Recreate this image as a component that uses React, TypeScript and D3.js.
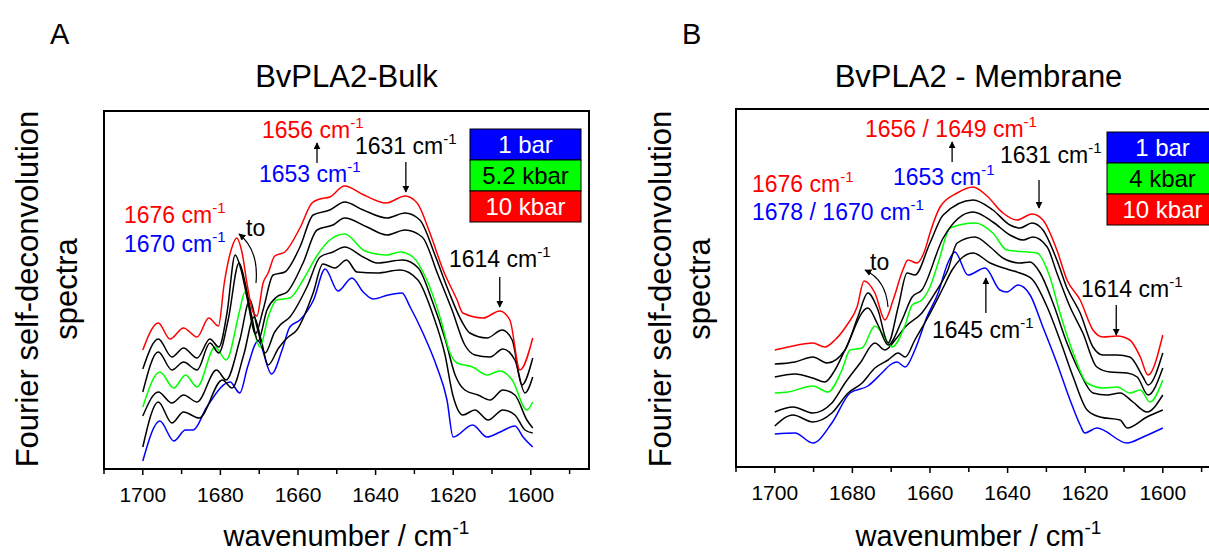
import React from "react";
import * as d3 from "d3";

type Pt = [number, number];

// ---------- axis values ----------
const xDomain: [number, number] = [1710, 1585];
const yDomain: [number, number] = [31, 389];
const majorTicks = [1700, 1680, 1660, 1640, 1620, 1600];
const minorTicks = [1710, 1690, 1670, 1650, 1630, 1610, 1590];

// ---------- Panel A: BvPLA2-Bulk (wavenumber, intensity a.u.) ----------
const bulk10kbar: Pt[] = [[1700,150],[1696,177],[1693,161],[1689.5,172],[1686,163],[1683,182],[1680.5,174],[1679,217],[1677,253],[1675.8,262],[1674.4,247],[1673,213],[1671.6,188],[1670.6,184],[1669,217],[1667.7,227],[1666,244],[1663.4,248],[1659.5,272],[1656.4,297],[1654.3,301],[1651.8,303],[1648,314],[1643,305],[1637.3,297],[1632.4,304],[1629.3,297],[1626,267],[1622.6,230],[1619,200],[1617.5,187],[1612.3,182],[1608,189],[1605.4,180],[1602.8,130],[1599.5,162]];
const bulkP2: Pt[] = [[1700,131],[1696,161],[1692.5,143],[1689.5,152],[1686,142],[1682.7,161],[1680.4,153],[1678.3,187],[1676.2,245],[1674.8,232],[1673,200],[1671,166],[1669,190],[1666.4,225],[1663.4,228],[1659.5,253],[1656.1,285],[1651.8,290],[1648,298],[1643.2,290],[1637.1,282],[1632.4,287],[1628.6,280],[1624.7,245],[1621.3,210],[1617.7,178],[1615.7,167],[1611.3,162],[1607.4,170],[1604.8,160],[1602.3,115],[1599.5,142]];
const bulkP3: Pt[] = [[1700,108],[1696,148],[1692.5,130],[1689.5,138],[1686,130],[1682.7,157],[1680.4,147],[1678,180],[1675.2,237],[1673.5,215],[1672,185],[1670.3,159],[1668,190],[1665.5,203],[1662.8,208],[1658.7,237],[1655.1,270],[1651,275],[1648,282],[1642.2,273],[1637.1,265],[1632.4,270],[1628,263],[1623.9,225],[1620.3,190],[1617,155],[1614.4,145],[1610.5,143],[1607.2,151],[1604.1,140],[1601.5,107],[1599.5,123]];
const bulk5kbar: Pt[] = [[1700,93],[1695.6,128],[1692,112],[1689,125],[1686,113],[1681.4,153],[1678.5,140],[1675,190],[1673.7,208],[1671.6,173],[1669.8,153],[1667.7,183],[1665.5,200],[1662.1,202],[1658.7,220],[1655,245],[1651.8,260],[1648,266],[1642.7,249],[1637.1,245],[1633.7,248],[1630.4,243],[1626.8,220],[1623.4,183],[1620.8,147],[1619,137],[1615,133],[1611.3,125],[1608,129],[1604.8,120],[1601,90],[1599.5,98]];
const bulkP5: Pt[] = [[1700,84],[1696,108],[1692.5,97],[1689.5,105],[1686,98],[1681,130],[1678.5,120],[1675,160],[1672.4,200],[1670.5,172],[1668.5,147],[1666,168],[1664.6,175],[1662.1,183],[1657.7,213],[1654.3,243],[1651,248],[1648,253],[1643.2,243],[1639.6,237],[1633,240],[1629,232],[1625.5,200],[1622,160],[1619.5,125],[1617,110],[1613.6,105],[1610.5,100],[1607.2,110],[1604.1,105],[1601,80],[1599.5,72]];
const bulkP6: Pt[] = [[1700,53],[1696,98],[1692.5,77],[1689.5,88],[1685.5,82],[1679.5,120],[1677,112],[1674,145],[1671.3,183],[1669.5,160],[1667.7,135],[1665,152],[1662.8,162],[1660.3,170],[1656.1,207],[1653.6,236],[1650.5,232],[1647.5,240],[1644.8,228],[1639.6,227],[1633.7,230],[1629.1,220],[1625.2,185],[1622.1,145],[1620.1,105],[1617.5,85],[1614.4,90],[1611,80],[1607.2,90],[1604.1,85],[1601.5,70],[1599.5,67]];
const bulk1bar: Pt[] = [[1700,39],[1695.6,79],[1692,59],[1689,70],[1687,70],[1683.5,93],[1677.5,118],[1675,107],[1673,133],[1670.3,159],[1666.8,126],[1664.1,150],[1662.1,173],[1659.5,180],[1656,200],[1653,231],[1649.7,209],[1646.1,222],[1643.2,208],[1640.7,201],[1636.8,205],[1633.2,207],[1631.1,193],[1627.8,167],[1624.2,133],[1621.6,100],[1620,63],[1615,75],[1611.3,63],[1607.9,68],[1604.1,74],[1602,63],[1599.5,53]];

// ---------- Panel B: BvPLA2 - Membrane ----------
const mem10kbar: Pt[] = [[1700,150],[1696.5,153],[1690.2,157],[1687.1,153],[1684.5,160],[1681.4,175],[1678.8,193],[1677,219],[1674.2,207],[1671.6,180],[1669.5,200],[1667,230],[1665.7,240],[1663.4,237],[1661.3,250],[1660,267],[1657.4,293],[1653,307],[1648.9,313],[1645.3,304],[1641.2,287],[1637.6,280],[1633.7,286],[1630.9,280],[1627.3,250],[1624.7,220],[1621.3,200],[1618,170],[1615.4,163],[1611.8,164],[1608.5,160],[1605.8,143],[1603.8,125],[1600,165]];
const memP2: Pt[] = [[1700,136],[1694.8,138],[1690.2,143],[1686.5,137],[1681.9,150],[1678.6,183],[1676,207],[1673.4,190],[1670.8,157],[1668.2,193],[1665.9,227],[1663.9,225],[1660,257],[1656.6,285],[1648.9,300],[1643.8,290],[1639.4,275],[1636.8,272],[1633.7,277],[1630.9,270],[1627.3,240],[1624.7,212],[1621.3,187],[1618,153],[1615.4,145],[1611.8,145],[1608.5,143],[1605.1,123],[1603.8,115],[1600,147]];
const memP3: Pt[] = [[1700,123],[1694.8,126],[1690.2,122],[1687.1,118],[1684.5,130],[1681.9,150],[1676,192],[1673.4,175],[1670.8,155],[1667.2,180],[1664.6,203],[1662.1,210],[1656.6,262],[1648.9,288],[1643.8,278],[1639.4,265],[1636,260],[1633.5,263],[1629.8,253],[1627.3,227],[1623.9,193],[1620.6,167],[1617,133],[1613.6,128],[1609.2,127],[1606.6,123],[1603.8,105],[1600,132]];
const mem4kbar: Pt[] = [[1700,107],[1696.6,108],[1690.2,114],[1686.3,108],[1682.7,130],[1680.6,150],[1677.5,152],[1674.2,174],[1672,165],[1669.8,153],[1666.4,175],[1664.6,195],[1662.1,200],[1660,213],[1657.9,237],[1654.8,272],[1648.4,277],[1643.8,267],[1640.2,250],[1635,248],[1632.4,247],[1629.1,223],[1626.5,187],[1623.1,147],[1619.5,117],[1615.4,112],[1611.8,113],[1608.5,107],[1605.8,110],[1603.3,98],[1600,120]];
const memP5: Pt[] = [[1700,88],[1695.3,93],[1690.2,87],[1685.3,97],[1681.9,117],[1678,137],[1674.2,157],[1671.6,150],[1669,160],[1666.4,173],[1662.1,187],[1658.7,207],[1655.4,230],[1653,257],[1648.4,263],[1644.5,253],[1641.2,242],[1636.8,237],[1634.2,238],[1631.6,227],[1628.3,197],[1624.7,157],[1621.3,127],[1618,107],[1614.4,105],[1611,107],[1607.7,98],[1604.1,88],[1600,105]];
const memP6: Pt[] = [[1700,74],[1695.3,85],[1690.2,78],[1685.3,87],[1681.1,107],[1677.5,117],[1674.2,132],[1670.8,140],[1668.2,147],[1666.4,143],[1663.9,160],[1660.5,183],[1656.9,210],[1654.3,230],[1651.5,243],[1648.9,247],[1644.5,237],[1639.4,230],[1636.8,227],[1633.5,220],[1629.8,193],[1626.5,160],[1623.1,123],[1619.5,90],[1616.2,83],[1611,80],[1609.2,72],[1604.1,83],[1600,90]];
const mem1bar: Pt[] = [[1700,66],[1694.8,67],[1690.2,57],[1685.3,77],[1680.6,107],[1676,114],[1672.4,127],[1670.3,135],[1668.5,138],[1666.4,133],[1663.9,150],[1660.8,183],[1657.9,207],[1655.4,237],[1653.6,248],[1650.2,225],[1645.8,232],[1642,210],[1640.2,208],[1637.3,215],[1634.2,205],[1630.9,173],[1627.3,137],[1623.9,100],[1621.3,75],[1620.1,67],[1617,72],[1609.2,57],[1605.1,63],[1600,72]];

const legendA = ["1 bar", "5.2 kbar", "10 kbar"];
const legendB = ["1 bar", "4 kbar", "10 kbar"];

const RED = "#ff0000", GREEN = "#00ff00", BLUE = "#0000ff", BLACK = "#000000";
const FONT = "'Liberation Sans', Arial, Helvetica, sans-serif";

const seriesA = [
  { d: bulk1bar, c: BLUE }, { d: bulkP6, c: BLACK }, { d: bulkP5, c: BLACK },
  { d: bulk5kbar, c: GREEN }, { d: bulkP3, c: BLACK }, { d: bulkP2, c: BLACK }, { d: bulk10kbar, c: RED },
];
const seriesB = [
  { d: mem1bar, c: BLUE }, { d: memP6, c: BLACK }, { d: memP5, c: BLACK },
  { d: mem4kbar, c: GREEN }, { d: memP3, c: BLACK }, { d: memP2, c: BLACK }, { d: mem10kbar, c: RED },
];

function Sup({ text, size = 23 }: { text: string; size?: number }) {
  const s = Math.round(size * 0.65);
  return (
    <>
      <tspan>{text}</tspan>
      <tspan dy={-size * 0.42} fontSize={s}>-1</tspan>
    </>
  );
}

function Arrow({ x, y1, y2 }: { x: number; y1: number; y2: number }) {
  return <line x1={x} x2={x} y1={y1} y2={y2} stroke="#000" strokeWidth={1.3} markerEnd="url(#ah)" />;
}

type PanelProps = {
  left: number; right: number; top: number; bottom: number;
  series: { d: Pt[]; c: string }[];
  title: string; letter: string; legend: string[];
  legendX: number; legendY: number;
  ylabX: number;
  children?: React.ReactNode;
  x: d3.ScaleLinear<number, number>;
};

function Panel(p: PanelProps) {
  const y = d3.scaleLinear().domain(yDomain).range([469, 111]);
  const line = d3.line<Pt>().x((d) => p.x(d[0])).y((d) => y(d[1])).curve(d3.curveMonotoneX);
  const legendColors = [BLUE, GREEN, RED];
  const legendText = ["#fff", "#000", "#fff"];
  const cx = (p.left + p.right) / 2;
  return (
    <g fontFamily={FONT}>
      <text x={p.left - 54} y={44} fontSize={29}>{p.letter}</text>
      <text x={cx} y={87} fontSize={31} textAnchor="middle">{p.title}</text>
      <text transform={`translate(${p.ylabX},289) rotate(-90)`} fontSize={31} textAnchor="middle">Fourier self-deconvolution</text>
      <text transform={`translate(${p.ylabX + 39},289) rotate(-90)`} fontSize={31} textAnchor="middle">spectra</text>
      {p.series.map((s, i) => (
        <path key={i} d={line(s.d) || ""} fill="none" stroke={s.c} strokeWidth={1.5} />
      ))}
      <rect x={p.left} y={p.top} width={p.right - p.left} height={p.bottom - p.top} fill="none" stroke="#000" strokeWidth={2} />
      {majorTicks.map((t) => (
        <g key={t}>
          <line x1={p.x(t)} x2={p.x(t)} y1={p.bottom} y2={p.bottom + 6} stroke="#000" strokeWidth={1.5} />
          <text x={p.x(t)} y={p.bottom + 33} fontSize={21} textAnchor="middle">{t}</text>
        </g>
      ))}
      {minorTicks.map((t) => (
        <line key={t} x1={p.x(t)} x2={p.x(t)} y1={p.bottom} y2={p.bottom + 5} stroke="#000" strokeWidth={1.5} />
      ))}
      <text x={cx} y={546} fontSize={29} textAnchor="middle"><Sup text="wavenumber / cm" size={29} /></text>
      {p.legend.map((l, i) => (
        <g key={l}>
          <rect x={p.legendX} y={p.legendY + i * 31} width={111} height={31} fill={legendColors[i]} stroke="#000" strokeWidth={1} />
          <text x={p.legendX + 55.5} y={p.legendY + i * 31 + 24} fontSize={24} textAnchor="middle" fill={legendText[i]}>{l}</text>
        </g>
      ))}
      {p.children}
    </g>
  );
}

export default function App() {
  const xA = d3.scaleLinear().domain(xDomain).range([104, 589]);
  const xB = d3.scaleLinear().domain(xDomain).range([736, 1221]);
  const fs = 23;
  return (
    <svg width={1209} height={552} style={{ position: "absolute", left: 0, top: 0, display: "block", background: "#fff" }}>
      <defs>
        <marker id="ah" viewBox="0 0 10 10" refX={9} refY={5} markerWidth={7} markerHeight={7} markerUnits="userSpaceOnUse" orient="auto">
          <path d="M0,0 L10,5 L0,10 z" fill="#000" />
        </marker>
      </defs>
      <Panel left={104} right={589} top={111} bottom={469} series={seriesA} title="BvPLA2-Bulk" letter="A"
        legend={legendA} legendX={470} legendY={129} ylabX={38} x={xA}>
        <g fontFamily={FONT} fontSize={fs}>
          <text x={262} y={138} fill={RED}><Sup text="1656 cm" /></text>
          <text x={259} y={182} fill={BLUE}><Sup text="1653 cm" /></text>
          <text x={355} y={154} fill={BLACK}><Sup text="1631 cm" /></text>
          <text x={124} y={223} fill={RED}><Sup text="1676 cm" /></text>
          <text x={124} y={252} fill={BLUE}><Sup text="1670 cm" /></text>
          <text x={246} y={236} fill={BLACK}>to</text>
          <text x={449} y={267} fill={BLACK}><Sup text="1614 cm" /></text>
          <Arrow x={xA(1655.1)} y1={163} y2={143} />
          <Arrow x={xA(1632.2)} y1={162} y2={192} />
          <Arrow x={xA(1608)} y1={277} y2={307} />
          <path d="M256,283 Q259,250 239,234" fill="none" stroke="#000" strokeWidth={1.2} markerEnd="url(#ah)" />
        </g>
      </Panel>
      <Panel left={736} right={1221} top={109} bottom={467} series={seriesB} title="BvPLA2 - Membrane" letter="B"
        legend={legendB} legendX={1107} legendY={132} ylabX={671} x={xB}>
        <g fontFamily={FONT} fontSize={fs}>
          <text x={865} y={137} fill={RED}><Sup text="1656 / 1649 cm" /></text>
          <text x={893} y={185} fill={BLUE}><Sup text="1653 cm" /></text>
          <text x={752} y={192} fill={RED}><Sup text="1676 cm" /></text>
          <text x={752} y={220} fill={BLUE}><Sup text="1678 / 1670 cm" /></text>
          <text x={870} y={270} fill={BLACK}>to</text>
          <text x={1000} y={163} fill={BLACK}><Sup text="1631 cm" /></text>
          <text x={932} y={338} fill={BLACK}><Sup text="1645 cm" /></text>
          <text x={1081} y={297} fill={BLACK}><Sup text="1614 cm" /></text>
          <Arrow x={xB(1654.3)} y1={162} y2={142} />
          <Arrow x={xB(1631.9)} y1={180} y2={208} />
          <Arrow x={xB(1645.6)} y1={313} y2={278} />
          <Arrow x={xB(1612)} y1={305} y2={335} />
          <path d="M888,307 Q886,280 865,270" fill="none" stroke="#000" strokeWidth={1.2} markerEnd="url(#ah)" />
        </g>
      </Panel>
    </svg>
  );
}
